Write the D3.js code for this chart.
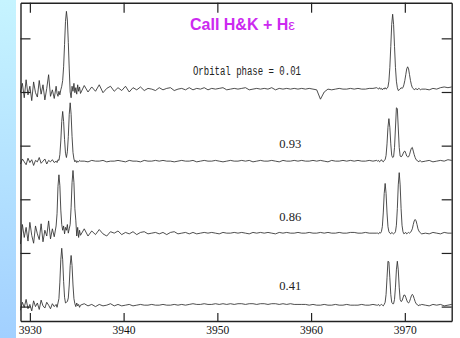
<!DOCTYPE html>
<html>
<head>
<meta charset="utf-8">
<script src="https://cdn.jsdelivr.net/npm/d3@7"></script>
<style>
  html, body { margin: 0; padding: 0; background: #fff; }
  svg { display: block; }
</style>
</head>
<body>
<div id="chart"></div>
<script>
// wavelength sampling (Angstrom): [start, stop, step], finer around the emission lines
const waveSegments = [
    [3929.0, 3932.8, 0.2],
    [3932.9, 3935.4, 0.1],
    [3935.8, 3967.0, 0.4],
    [3967.1, 3971.8, 0.1],
    [3972.2, 3975.0, 0.4]
];

// flux in % of continuum, one value per wavelength sample
const flux001 = [
    96, 108, 88, 113, 92, 104, 84, 110, 95, 89, 112, 93, 106, 85, 101, 120, 90, 99, 87, 104,
    94, 90, 97, 92, 99, 104, 112, 131, 162, 194, 208, 196, 165, 128, 96, 88, 104, 97, 108, 95, 102, 93, 106, 97, 103, 94,
    105, 96, 103, 97, 106, 95, 101, 104, 97, 102, 98, 104, 96, 102, 99, 103, 98, 101, 100, 98,
    102, 99, 101, 102, 98, 100, 101, 99, 102, 99, 101, 100, 102, 99, 101, 100, 101, 102, 99, 100,
    101, 100, 101, 102, 99, 100, 101, 100, 101, 100, 102, 99, 101, 100, 101, 100, 101, 100, 101, 100,
    101, 100, 99, 86, 96, 100, 99, 100, 101, 100, 100, 101, 100, 101, 100, 100, 101, 101, 102,
    101, 100, 102, 100, 101, 99, 101, 100, 102, 100, 101, 103, 111, 130, 159, 190, 204, 190, 159, 130,
    111, 102, 98, 99, 100, 102, 101, 102, 106, 112, 120, 128, 131, 128, 120, 112, 106, 102, 101, 99,
    100, 101, 99, 100, 101, 100, 99, 100,
    100, 99, 101, 100, 102, 103, 102, 103
];
const flux093 = [
    96, 103, 99, 95, 104, 98, 102, 94, 101, 99, 105, 97, 100, 103, 96, 101, 99, 102, 98, 100,
    98, 102, 101, 109, 128, 155, 169, 155, 130, 111, 105, 113, 134, 165, 181, 165, 134, 112, 103, 99, 101, 98, 100, 99, 101, 100,
    100, 99, 101, 100, 100, 101, 99, 100, 100, 101, 100, 99, 101, 100, 100, 99, 101, 100, 100, 101,
    100, 101, 100, 100, 99, 100, 101, 100, 100, 101, 99, 100, 101, 100, 100, 101, 100, 99, 100, 101,
    100, 100, 101, 100, 101, 99, 100, 101, 100, 100, 101, 100, 99, 101, 100, 100, 101, 100, 101, 100,
    100, 101, 100, 101, 100, 99, 101, 100, 100, 101, 100, 101, 100, 101, 100, 100, 101, 100, 101,
    100, 101, 99, 100, 102, 100, 99, 101, 102, 108, 124, 147, 159, 147, 124, 108, 105, 106, 119, 146,
    174, 173, 146, 119, 107, 106, 107, 110, 113, 114, 111, 107, 106, 106, 109, 114, 118, 119, 114, 109,
    105, 102, 101, 100, 99, 101, 100, 99,
    100, 101, 99, 100, 101, 100, 102, 101
];
const flux086 = [
    85, 112, 94, 108, 89, 115, 97, 86, 110, 99, 91, 113, 88, 104, 96, 117, 92, 106, 95, 110,
    127, 165, 181, 166, 132, 112, 104, 110, 99, 108, 104, 112, 100, 106, 112, 136, 170, 187, 170, 134, 118, 96, 108, 94, 104, 97,
    106, 96, 103, 98, 105, 99, 96, 102, 100, 103, 98, 101, 99, 102, 98, 101, 102, 99, 100, 101,
    99, 101, 98, 101, 102, 99, 100, 101, 99, 101, 99, 100, 101, 100, 101, 100, 99, 101, 100, 100,
    101, 100, 101, 100, 99, 101, 100, 101, 100, 101, 100, 99, 101, 100, 101, 100, 100, 101, 100, 100,
    101, 100, 100, 101, 100, 101, 100, 100, 101, 100, 100, 101, 101, 100, 100, 101, 100, 100, 100,
    100, 99, 101, 100, 102, 109, 128, 155, 169, 155, 128, 109, 102, 100, 99, 101, 100, 99, 100, 102,
    111, 134, 167, 184, 167, 134, 111, 102, 99, 100, 101, 99, 100, 101, 100, 101, 103, 106, 112, 117,
    119, 117, 112, 106, 103, 101, 100, 99,
    100, 99, 101, 100, 99, 101, 100, 100
];
const flux041 = [
    93, 104, 97, 108, 95, 101, 92, 106, 98, 103, 94, 107, 99, 96, 104, 100, 95, 102, 98, 101,
    97, 103, 109, 132, 163, 179, 163, 133, 111, 103, 104, 105, 110, 128, 155, 169, 155, 128, 109, 102, 98, 103, 99, 101, 97, 100,
    102, 99, 101, 98, 101, 99, 100, 102, 99, 101, 99, 100, 101, 99, 100, 101, 100, 100, 101, 100,
    100, 101, 100, 100, 101, 100, 101, 100, 101, 102, 101, 101, 102, 101, 101, 102, 101, 102, 101, 102,
    101, 102, 102, 101, 102, 102, 101, 102, 102, 101, 102, 102, 101, 102, 101, 102, 101, 101, 101, 101,
    100, 101, 100, 100, 101, 100, 100, 101, 100, 100, 101, 100, 100, 100, 101, 100, 100, 101, 100,
    100, 101, 99, 100, 101, 100, 99, 101, 104, 115, 138, 161, 160, 138, 115, 104, 102, 102, 108, 125,
    149, 161, 149, 125, 108, 105, 106, 110, 114, 114, 111, 107, 104, 103, 105, 109, 113, 115, 113, 109,
    105, 102, 101, 100, 99, 101, 100, 101,
    100, 99, 101, 100, 101, 99, 100, 101
];

// spectra stacked bottom to top
const phases = ["0.41", "0.86", "0.93", "0.01"];
const phaseText = ["0.41", "0.86", "0.93", "Orbital phase = 0.01"];
const offsets = [0, 1, 2, 3];
const spectra = [flux041, flux086, flux093, flux001];

const xTicks = [3930, 3940, 3950, 3960, 3970];
const yTicks = [0.98, 1.725, 2.47, 3.215, 3.96, 4.705];

const W = 460, H = 338;
const margin = { top: 2.7, right: 8.3, bottom: 17, left: 20.5 };

// build wavelength grid
const wave = [];
waveSegments.forEach(([a, b, s]) => {
    const n = Math.round((b - a) / s) + 1;
    for (let i = 0; i < n; i++) wave.push(+(a + i * s).toFixed(2));
});

const svg = d3.select('#chart').append('svg')
    .attr('width', W)
    .attr('height', H);

// blue strip at the left edge
const grad = svg.append('defs').append('linearGradient')
    .attr('id', 'strip').attr('x1', 0).attr('y1', 0).attr('x2', 0).attr('y2', 1);
grad.append('stop').attr('offset', '0%').attr('stop-color', '#c6f4ff');
grad.append('stop').attr('offset', '100%').attr('stop-color', '#a2d0ff');
svg.append('rect').attr('x', 0).attr('y', 0).attr('width', 16).attr('height', H)
    .attr('fill', 'url(#strip)');

const x = d3.scaleLinear().domain([3929, 3975]).range([margin.left, W - margin.right]);
const y = d3.scaleLinear().domain([0.78, 5.2]).range([H - margin.bottom, margin.top]);

// spectra
const line = d3.line()
    .x((d, i) => x(wave[i]))
    .y(d => d);

spectra.forEach((f, k) => {
    const n = Math.min(f.length, wave.length);
    const pts = f.slice(0, n).map(v => y(v / 100 + offsets[k]));
    svg.append('path')
        .attr('d', line(pts))
        .attr('fill', 'none')
        .attr('stroke', '#2e2e2e')
        .attr('stroke-width', 0.85)
        .attr('stroke-linejoin', 'round');
});

// frame + ticks
const axisStyle = g => {
    g.select('.domain').attr('stroke', '#222').attr('stroke-width', 1.4);
    g.selectAll('.tick line').attr('stroke', '#222').attr('stroke-width', 1.2);
};

svg.append('g')
    .attr('transform', `translate(0, ${H - margin.bottom})`)
    .call(d3.axisBottom(x).tickValues(xTicks).tickSizeInner(-8).tickSizeOuter(0).tickPadding(4.5).tickFormat(d3.format('d')))
    .call(axisStyle)
    .call(g => g.selectAll('.tick text')
        .attr('font-family', '"Liberation Serif", "DejaVu Serif", serif')
        .attr('font-size', 11.5)
        .attr('fill', '#111'));

svg.append('g')
    .attr('transform', `translate(0, ${margin.top})`)
    .call(d3.axisTop(x).tickValues(xTicks).tickSizeInner(-10).tickSizeOuter(0).tickFormat(''))
    .call(axisStyle);

svg.append('g')
    .attr('transform', `translate(${margin.left}, 0)`)
    .call(d3.axisLeft(y).tickValues(yTicks).tickSizeInner(-10).tickSizeOuter(0).tickFormat(''))
    .call(axisStyle);

svg.append('g')
    .attr('transform', `translate(${W - margin.right}, 0)`)
    .call(d3.axisRight(y).tickValues(yTicks).tickSizeInner(-10).tickSizeOuter(0).tickFormat(''))
    .call(axisStyle);

// phase labels
const labelX = [3956.6, 3956.6, 3956.6, 3947.4];
const labelRise = [15, 12.5, 13, 13.7];
phaseText.forEach((t, k) => {
    const mono = k === 3;
    svg.append('text')
        .attr('x', x(labelX[k]))
        .attr('y', y(1 + offsets[k]) - labelRise[k])
        .attr('font-family', mono ? '"Liberation Mono", "DejaVu Sans Mono", monospace' : '"Liberation Serif", "DejaVu Serif", serif')
        .attr('font-size', 12.5)
        .attr('textLength', mono ? 108 : 22)
        .attr('lengthAdjust', 'spacingAndGlyphs')
        .attr('fill', '#222')
        .text(t);
});

// title
const title = svg.append('text')
    .attr('x', 190)
    .attr('y', 30)
    .attr('font-family', '"Liberation Sans", Arial, sans-serif')
    .attr('font-size', 16)
    .attr('font-weight', 'bold')
    .attr('fill', '#cc2af0');
title.append('tspan').text('CaII H&K + H');
title.append('tspan').attr('font-weight', 'normal').attr('font-size', 15).text('ε');
</script>
</body>
</html>
